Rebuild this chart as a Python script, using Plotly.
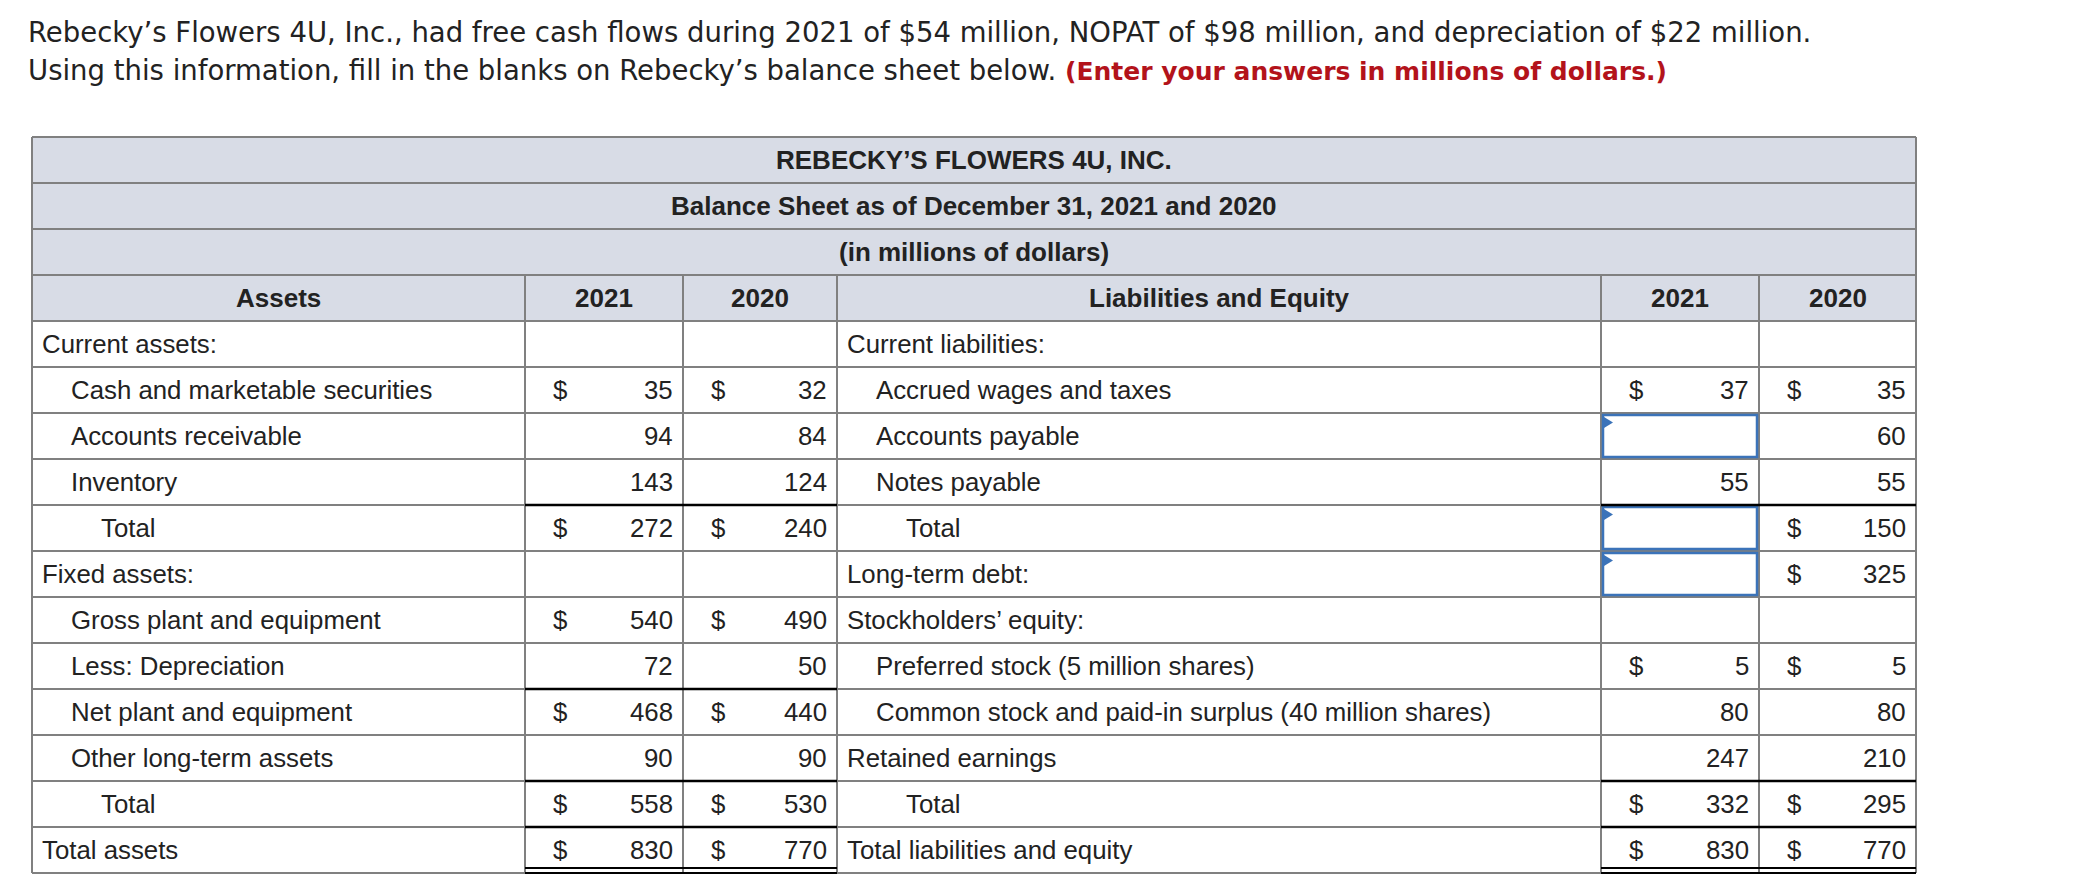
import plotly.graph_objects as go

# ---------------- data ----------------
intro_line1 = ("Rebecky’s Flowers 4U, Inc., had free cash flows during 2021 of $54 million, "
               "NOPAT of $98 million, and depreciation of $22 million.")
intro_line2 = "Using this information, fill in the blanks on Rebecky’s balance sheet below. "
intro_note = "(Enter your answers in millions of dollars.)"

title_lines = ["REBECKY’S FLOWERS 4U, INC.",
               "Balance Sheet as of December 31, 2021 and 2020",
               "(in millions of dollars)"]
col_headers = ["Assets", "2021", "2020", "Liabilities and Equity", "2021", "2020"]

asset_labels = ["Current assets:", "Cash and marketable securities", "Accounts receivable",
                "Inventory", "Total", "Fixed assets:", "Gross plant and equipment",
                "Less: Depreciation", "Net plant and equipment", "Other long-term assets",
                "Total", "Total assets"]
asset_indent = [0, 1, 1, 1, 2, 0, 1, 1, 1, 1, 2, 0]
assets_2021 = [None, 35, 94, 143, 272, None, 540, 72, 468, 90, 558, 830]
assets_2020 = [None, 32, 84, 124, 240, None, 490, 50, 440, 90, 530, 770]
assets_2021_dollar = [0, 1, 0, 0, 1, 0, 1, 0, 1, 0, 1, 1]
assets_2020_dollar = [0, 1, 0, 0, 1, 0, 1, 0, 1, 0, 1, 1]

liab_labels = ["Current liabilities:", "Accrued wages and taxes", "Accounts payable",
               "Notes payable", "Total", "Long-term debt:", "Stockholders’ equity:",
               "Preferred stock (5 million shares)",
               "Common stock and paid-in surplus (40 million shares)",
               "Retained earnings", "Total", "Total liabilities and equity"]
liab_indent = [0, 1, 1, 1, 2, 0, 0, 1, 1, 0, 2, 0]
# "input" marks an answer box left blank
liab_2021 = [None, 37, "input", 55, "input", "input", None, 5, 80, 247, 332, 830]
liab_2020 = [None, 35, 60, 55, 150, 325, None, 5, 80, 210, 295, 770]
liab_2021_dollar = [0, 1, 0, 0, 0, 0, 0, 1, 0, 0, 1, 1]
liab_2020_dollar = [0, 1, 0, 0, 1, 1, 0, 1, 0, 0, 1, 1]

# rows (index into data rows) that get a black rule above, and the grand-total row
asset_rule_rows = [4, 8, 10, 11]
liab_rule_rows = [4, 10, 11]
grand_total_row = 11

# ---------------- geometry / style ----------------
W, H = 2084, 892
COLS = [32, 525, 683, 837, 1601, 1759, 1916]
TOP = 137
RH = 46
HDR_N = 4
DATA_TOP = TOP + HDR_N * RH
N = len(asset_labels)
BOTTOM = DATA_TOP + N * RH
GRAY = "#808080"
HDR_FILL = "#d8dce6"
TXT = "#222222"
BLUE = "#3b73b9"
RED = "#b3131b"
FONT = "Liberation Sans, Arial, sans-serif"
FS = 25.8
FSB = 26
INDENT = [8, 37, 67]

shapes = []
ann = []


def line(x0, y0, x1, y1, color=GRAY, w=2):
    shapes.append(dict(type="line", x0=x0, y0=y0, x1=x1, y1=y1, xref="x", yref="y",
                       line=dict(color=color, width=w), layer="above"))


def text(x, y, s, anchor="left", bold=False, color=TXT, size=FS, font=FONT):
    if bold:
        s = "<b>" + s + "</b>"
    ann.append(dict(x=x, y=y, xref="x", yref="y", text=s, showarrow=False,
                    xanchor=anchor, yanchor="middle",
                    font=dict(family=font, size=size, color=color)))


# header fill
shapes.append(dict(type="rect", x0=COLS[0], x1=COLS[-1], y0=TOP, y1=DATA_TOP,
                   xref="x", yref="y", fillcolor=HDR_FILL, line=dict(width=0), layer="below"))

# horizontal grid lines
for i in range(HDR_N + N + 1):
    y = TOP + i * RH
    line(COLS[0], y, COLS[-1], y)
# verticals
line(COLS[0], TOP, COLS[0], BOTTOM)
line(COLS[-1], TOP, COLS[-1], BOTTOM)
for x in COLS[1:-1]:
    line(x, TOP + 3 * RH, x, BOTTOM)

# title lines
for i, t in enumerate(title_lines):
    text((COLS[0] + COLS[-1]) / 2, TOP + i * RH + RH / 2, t, anchor="center", bold=True, size=FSB)
# column headers
for i, t in enumerate(col_headers):
    text((COLS[i] + COLS[i + 1]) / 2, TOP + 3 * RH + RH / 2, t, anchor="center", bold=True, size=FSB)


def put_block(labels, indent, v21, v20, d21, d20, c_lab, c21, c20):
    for r in range(N):
        yc = DATA_TOP + r * RH + RH / 2
        text(COLS[c_lab] + INDENT[indent[r]], yc, labels[r])
        for vals, dol, c in ((v21, d21, c21), (v20, d20, c20)):
            v = vals[r]
            if v is None:
                continue
            if v == "input":
                y0 = DATA_TOP + r * RH
                shapes.append(dict(type="rect", x0=COLS[c] + 2, x1=COLS[c + 1] - 2,
                                   y0=y0 + 2, y1=y0 + RH - 2, xref="x", yref="y",
                                   line=dict(color=BLUE, width=2.5), fillcolor="white",
                                   layer="above"))
                xs = COLS[c] + 3
                shapes.append(dict(type="path",
                                   path=f"M {xs} {y0 + 4} L {xs + 9} {y0 + 9.5} L {xs} {y0 + 15} Z",
                                   xref="x", yref="y", fillcolor=BLUE, line=dict(width=0),
                                   layer="above"))
                continue
            text(COLS[c + 1] - 8, yc, str(v), anchor="right")
            if dol[r]:
                text(COLS[c] + 26, yc, "$", anchor="left")


put_block(asset_labels, asset_indent, assets_2021, assets_2020,
          assets_2021_dollar, assets_2020_dollar, 0, 1, 2)
put_block(liab_labels, liab_indent, liab_2021, liab_2020,
          liab_2021_dollar, liab_2020_dollar, 3, 4, 5)

# black total rules
for rows, xa, xb in ((asset_rule_rows, COLS[1], COLS[3]), (liab_rule_rows, COLS[4], COLS[6])):
    for r in rows:
        y = DATA_TOP + r * RH
        line(xa, y, xb, y, color="black", w=2.5)
    yb = DATA_TOP + (grand_total_row + 1) * RH
    line(xa, yb - 5, xb, yb - 5, color="black", w=2)
    line(xa, yb, xb, yb, color="black", w=2)

# intro text
IFONT = "DejaVu Sans, sans-serif"
text(26, 32, intro_line1, size=27.5, font=IFONT)
text(26, 70, intro_line2
     + f"<b><span style='color:{RED};font-size:25px'>{intro_note}</span></b>",
     size=27.5, font=IFONT)

fig = go.Figure()
fig.add_trace(go.Scatter(x=[0], y=[0], mode="markers", marker=dict(opacity=0),
                         hoverinfo="skip", showlegend=False))
fig.update_layout(
    width=W, height=H, margin=dict(l=0, r=0, t=0, b=0),
    paper_bgcolor="white", plot_bgcolor="white",
    xaxis=dict(range=[0, W], visible=False, fixedrange=True),
    yaxis=dict(range=[H, 0], visible=False, fixedrange=True),
    shapes=shapes, annotations=ann, showlegend=False,
)
fig.write_html("out.html", config={"displayModeBar": False},
               post_script="document.body.style.margin='0';document.body.style.overflow='hidden';")
